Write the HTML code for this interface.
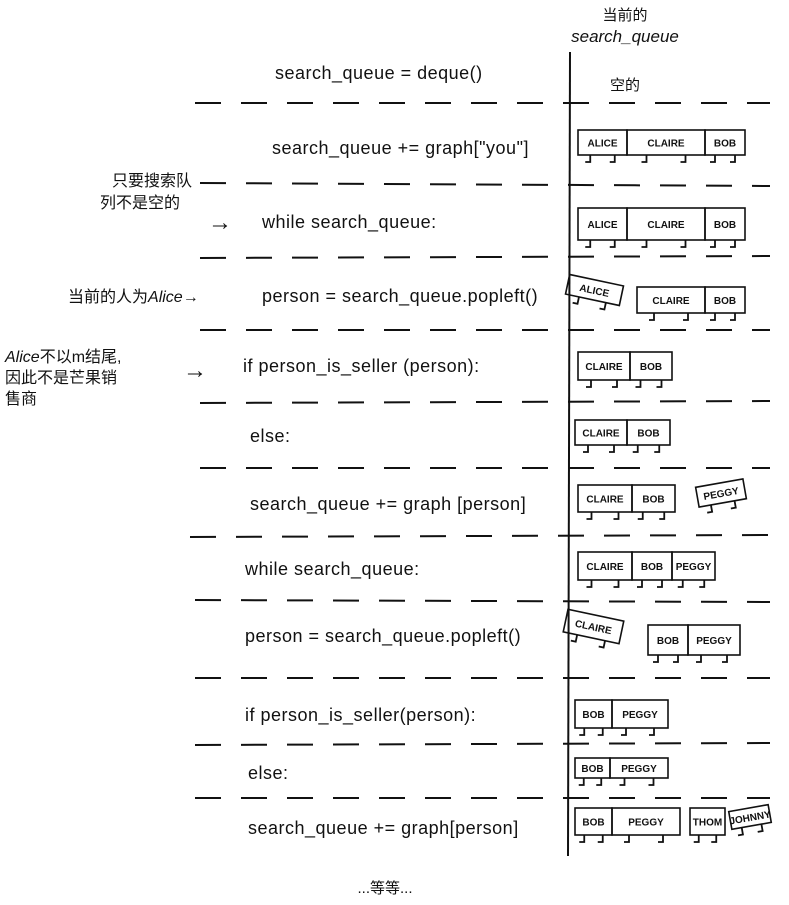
<!DOCTYPE html>
<html><head><meta charset="utf-8">
<style>
html,body{margin:0;padding:0;background:#fff;}
svg{display:block;}
text{font-family:"Liberation Sans","Noto Sans CJK SC",sans-serif;fill:#111;}
.code{font-size:18px;letter-spacing:0.5px;}
.lbl{font-size:10px;font-weight:bold;}
.ann{font-style:italic;}
</style></head>
<body>
<svg width="789" height="905" viewBox="0 0 789 905" xmlns="http://www.w3.org/2000/svg">
<g>
<text x="625" y="20" text-anchor="middle" style="font-size:15px">当前的</text>
<text x="625" y="42" text-anchor="middle" class="ann" style="font-size:17px">search_queue</text>
<text x="625" y="90" text-anchor="middle" style="font-size:15px">空的</text>
</g>
<line x1="570" y1="52" x2="568" y2="856" stroke="#111" stroke-width="2"/>
<g stroke="#111" stroke-width="2" stroke-dasharray="26,20">
<line x1="195" y1="103" x2="770" y2="103"/>
<line x1="200" y1="183" x2="770" y2="186"/>
<line x1="200" y1="258" x2="770" y2="256"/>
<line x1="200" y1="330" x2="770" y2="330"/>
<line x1="200" y1="403" x2="770" y2="401"/>
<line x1="200" y1="468" x2="770" y2="468"/>
<line x1="190" y1="537" x2="770" y2="535"/>
<line x1="195" y1="600" x2="770" y2="602"/>
<line x1="195" y1="678" x2="770" y2="678"/>
<line x1="195" y1="745" x2="770" y2="743"/>
<line x1="195" y1="798" x2="770" y2="798"/>
</g>
<g class="code">
<text x="275" y="79">search_queue = deque()</text>
<text x="272" y="154">search_queue += graph["you"]</text>
<text x="262" y="228">while search_queue:</text>
<text x="262" y="302">person = search_queue.popleft()</text>
<text x="243" y="372">if person_is_seller (person):</text>
<text x="250" y="442">else:</text>
<text x="250" y="510">search_queue += graph [person]</text>
<text x="245" y="575">while search_queue:</text>
<text x="245" y="642">person = search_queue.popleft()</text>
<text x="245" y="721">if person_is_seller(person):</text>
<text x="248" y="779">else:</text>
<text x="248" y="834">search_queue += graph[person]</text>
</g>
<g>
<text x="112" y="186" style="font-size:16px">只要搜索队</text>
<text x="100" y="208" style="font-size:16px">列不是空的</text>
<text x="208" y="230" style="font-size:24px">→</text>
<text x="68" y="302" style="font-size:16px">当前的人为<tspan class="ann">Alice</tspan>→</text>
<text x="5" y="362" style="font-size:16px"><tspan class="ann">Alice</tspan>不以m结尾,</text>
<text x="5" y="383" style="font-size:16px">因此不是芒果销</text>
<text x="5" y="404" style="font-size:16px">售商</text>
<text x="183" y="378" style="font-size:24px">→</text>
<text x="385" y="893" text-anchor="middle" style="font-size:15px">...等等...</text>
</g>
<g id="boxes"></g>
</svg>
<script>
const rows=[
 [[578,627,'ALICE'],[627,705,'CLAIRE'],[705,745,'BOB'],130,155],
 [[578,627,'ALICE'],[627,705,'CLAIRE'],[705,745,'BOB'],208,240],
 [[637,705,'CLAIRE'],[705,745,'BOB'],287,313],
 [[578,630,'CLAIRE'],[630,672,'BOB'],352,380],
 [[575,627,'CLAIRE'],[627,670,'BOB'],420,445],
 [[578,632,'CLAIRE'],[632,675,'BOB'],485,512],
 [[578,632,'CLAIRE'],[632,672,'BOB'],[672,715,'PEGGY'],552,580],
 [[648,688,'BOB'],[688,740,'PEGGY'],625,655],
 [[575,612,'BOB'],[612,668,'PEGGY'],700,728],
 [[575,610,'BOB'],[610,668,'PEGGY'],758,778],
 [[575,612,'BOB'],[612,680,'PEGGY'],[690,725,'THOM'],808,835]
];
const tilted=[[567,622,'ALICE',280,300,12],[697,745,'PEGGY',483,503,-10],[565,622,'CLAIRE',615,638,12],[730,770,'JOHNNY',808,826,-10]];
const g=document.getElementById('boxes');
const NS='http://www.w3.org/2000/svg';
function box(x1,x2,lab,y1,y2,rot){
 const gg=document.createElementNS(NS,'g');
 
 
 if(rot)gg.setAttribute('transform',`rotate(${rot} ${(x1+x2)/2} ${(y1+y2)/2})`);
 const r=document.createElementNS(NS,'rect');
 r.setAttribute('x',x1);r.setAttribute('y',y1);r.setAttribute('width',x2-x1);r.setAttribute('height',y2-y1);
 r.setAttribute('fill','none');r.setAttribute('stroke','#111');r.setAttribute('stroke-width','1.6');
 gg.appendChild(r);
 const t=document.createElementNS(NS,'text');
 t.setAttribute('x',(x1+x2)/2);t.setAttribute('y',(y1+y2)/2+4);t.setAttribute('text-anchor','middle');t.setAttribute('class','lbl');
 t.textContent=lab;gg.appendChild(t);
 const w=x2-x1;
 [x1+w*0.25,x1+w*0.75].forEach(lx=>{
  const p=document.createElementNS(NS,'path');
  p.setAttribute('d',`M${lx} ${y2} v7 h-5`);
  p.setAttribute('fill','none');p.setAttribute('stroke','#111');p.setAttribute('stroke-width','1.8');
  gg.appendChild(p);
 });
 g.appendChild(gg);
}
rows.forEach(r=>{const y1=r[r.length-2],y2=r[r.length-1];r.slice(0,-2).forEach(b=>box(b[0],b[1],b[2],y1,y2,0));});
tilted.forEach(b=>box(b[0],b[1],b[2],b[3],b[4],b[5]));
</script>
</body></html>
